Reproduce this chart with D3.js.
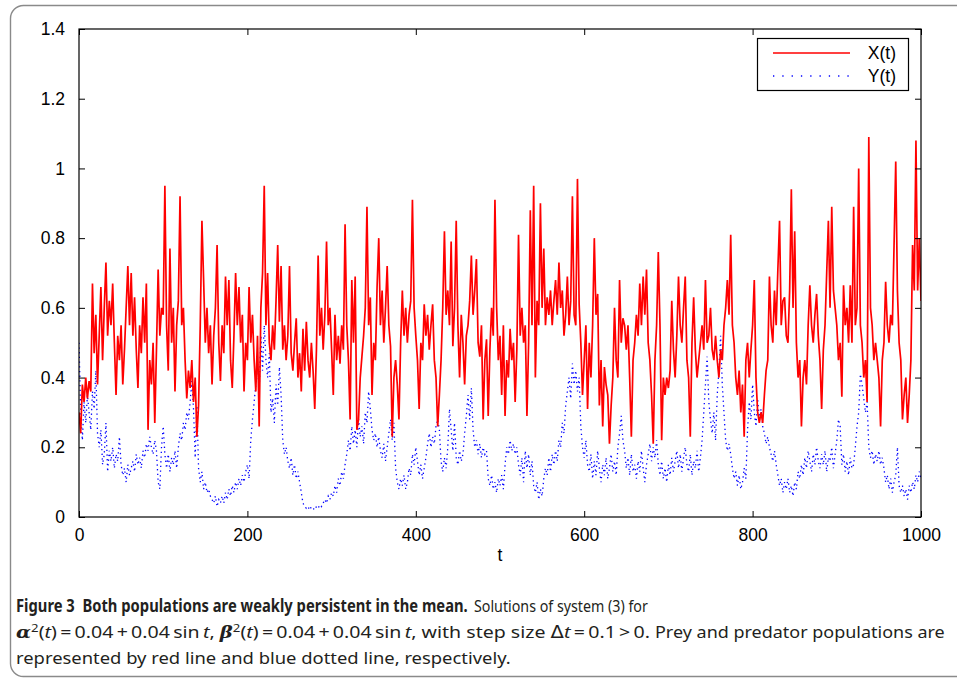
<!DOCTYPE html>
<html>
<head>
<meta charset="utf-8">
<script src="https://cdn.jsdelivr.net/npm/d3@7"></script>
<style>
  html, body { margin: 0; padding: 0; background: #fff; }
  svg { display: block; }
</style>
</head>
<body>
<div id="chart"></div>
<script>
// sampled every 2 time units, t = 0 .. 1000
const tStep = 2;

// prey X(t)
const preyX = [
  0.30,0.24,0.38,0.33,0.40,0.34,0.39,0.36,0.67,0.47,0.58,0.38,0.52,0.66,0.45,0.60,0.73,0.52,0.62,0.55,0.67,0.50,0.35,0.52,0.45,
  0.55,0.38,0.48,0.60,0.72,0.55,0.70,0.52,0.63,0.48,0.37,0.55,0.47,0.63,0.50,0.67,0.25,0.45,0.38,0.50,0.27,0.48,0.71,0.52,0.60,
  0.58,0.95,0.55,0.42,0.77,0.50,0.60,0.36,0.55,0.62,0.92,0.55,0.60,0.45,0.34,0.42,0.37,0.45,0.33,0.40,0.23,0.32,0.55,0.85,0.68,
  0.50,0.60,0.47,0.55,0.38,0.52,0.60,0.78,0.50,0.39,0.55,0.47,0.69,0.55,0.68,0.45,0.37,0.52,0.70,0.55,0.66,0.50,0.58,0.36,0.50,
  0.45,0.66,0.50,0.58,0.45,0.36,0.52,0.26,0.60,0.70,0.95,0.55,0.70,0.50,0.45,0.55,0.48,0.62,0.78,0.56,0.72,0.48,0.55,0.45,0.52,
  0.72,0.47,0.42,0.50,0.57,0.40,0.47,0.36,0.54,0.42,0.56,0.45,0.40,0.50,0.42,0.31,0.48,0.75,0.52,0.60,0.48,0.58,0.79,0.55,0.60,
  0.48,0.35,0.58,0.45,0.52,0.44,0.55,0.48,0.84,0.55,0.45,0.28,0.68,0.50,0.69,0.25,0.28,0.40,0.46,0.52,0.60,0.89,0.55,0.63,0.35,
  0.50,0.45,0.66,0.80,0.55,0.65,0.50,0.60,0.72,0.55,0.49,0.23,0.40,0.45,0.38,0.28,0.50,0.65,0.52,0.60,0.50,0.58,0.62,0.91,0.60,
  0.52,0.45,0.31,0.50,0.45,0.61,0.52,0.58,0.48,0.55,0.61,0.45,0.40,0.26,0.35,0.45,0.60,0.82,0.58,0.65,0.55,0.79,0.49,0.60,0.85,
  0.55,0.40,0.58,0.50,0.38,0.52,0.55,0.62,0.75,0.58,0.65,0.74,0.50,0.46,0.55,0.28,0.45,0.51,0.29,0.48,0.60,0.52,0.91,0.60,0.45,
  0.52,0.35,0.55,0.29,0.45,0.40,0.54,0.45,0.50,0.33,0.48,0.81,0.52,0.60,0.50,0.55,0.29,0.50,0.88,0.55,0.95,0.40,0.62,0.55,0.90,
  0.60,0.77,0.55,0.63,0.58,0.65,0.55,0.62,0.68,0.58,0.73,0.60,0.65,0.52,0.58,0.69,0.55,0.62,0.92,0.58,0.55,0.97,0.61,0.50,0.35,
  0.45,0.55,0.31,0.50,0.40,0.55,0.80,0.58,0.64,0.32,0.45,0.26,0.43,0.38,0.35,0.21,0.32,0.40,0.60,0.45,0.40,0.68,0.50,0.57,0.55,
  0.48,0.55,0.40,0.23,0.45,0.50,0.58,0.52,0.67,0.55,0.69,0.58,0.71,0.50,0.45,0.35,0.21,0.45,0.55,0.76,0.55,0.22,0.40,0.35,0.40,
  0.37,0.42,0.62,0.48,0.40,0.52,0.69,0.55,0.50,0.60,0.69,0.45,0.40,0.23,0.50,0.63,0.48,0.40,0.45,0.50,0.55,0.48,0.68,0.50,0.52,
  0.60,0.48,0.45,0.52,0.45,0.40,0.48,0.45,0.55,0.60,0.68,0.58,0.81,0.55,0.50,0.40,0.35,0.42,0.30,0.38,0.23,0.45,0.50,0.40,0.48,
  0.55,0.68,0.40,0.30,0.27,0.30,0.27,0.35,0.42,0.45,0.69,0.55,0.50,0.65,0.55,0.71,0.85,0.55,0.62,0.63,0.52,0.50,0.65,0.94,0.60,
  0.82,0.50,0.40,0.45,0.26,0.40,0.45,0.38,0.55,0.665,0.55,0.50,0.58,0.64,0.52,0.45,0.31,0.48,0.55,0.70,0.85,0.60,0.89,0.65,0.60,
  0.55,0.45,0.50,0.345,0.665,0.55,0.60,0.50,0.665,0.50,0.89,0.55,0.60,1.00,0.55,0.50,0.40,0.45,0.33,1.09,0.60,0.55,0.45,0.50,0.45,
  0.40,0.26,0.45,0.50,0.675,0.55,0.50,0.58,0.55,0.78,1.02,0.65,0.50,0.45,0.28,0.35,0.40,0.27,0.35,0.45,0.78,0.65,1.08,0.65,0.80,
  0.62
];

// predator Y(t)
const predY = [
  0.50,0.30,0.22,0.33,0.27,0.35,0.30,0.25,0.36,0.31,0.42,0.24,0.20,0.25,0.15,0.18,0.27,0.13,0.19,0.16,0.20,0.14,0.18,0.16,0.23,
  0.15,0.12,0.14,0.10,0.15,0.12,0.14,0.16,0.13,0.18,0.15,0.17,0.14,0.19,0.17,0.21,0.19,0.23,0.20,0.18,0.22,0.19,0.10,0.08,0.20,
  0.26,0.18,0.14,0.18,0.13,0.17,0.15,0.19,0.14,0.20,0.24,0.22,0.27,0.25,0.30,0.28,0.33,0.39,0.31,0.17,0.32,0.14,0.10,0.13,0.08,
  0.10,0.07,0.08,0.06,0.05,0.04,0.06,0.03,0.05,0.04,0.06,0.04,0.07,0.05,0.08,0.06,0.09,0.07,0.10,0.08,0.11,0.09,0.12,0.10,0.13,
  0.15,0.11,0.22,0.28,0.33,0.38,0.44,0.36,0.52,0.42,0.55,0.45,0.40,0.47,0.30,0.34,0.27,0.38,0.32,0.43,0.35,0.22,0.18,0.20,0.16,
  0.14,0.17,0.12,0.15,0.11,0.13,0.10,0.07,0.04,0.03,0.025,0.03,0.02,0.03,0.025,0.02,0.03,0.025,0.035,0.03,0.04,0.05,0.04,0.06,0.05,
  0.07,0.06,0.09,0.07,0.11,0.09,0.13,0.11,0.15,0.18,0.22,0.19,0.26,0.21,0.25,0.20,0.28,0.23,0.26,0.21,0.30,0.27,0.36,0.31,0.25,
  0.22,0.24,0.20,0.23,0.19,0.17,0.21,0.16,0.20,0.24,0.28,0.22,0.27,0.14,0.10,0.08,0.11,0.09,0.12,0.08,0.10,0.14,0.12,0.18,0.15,
  0.20,0.16,0.12,0.15,0.11,0.14,0.17,0.21,0.24,0.20,0.23,0.21,0.26,0.28,0.25,0.16,0.13,0.17,0.14,0.20,0.31,0.25,0.19,0.27,0.17,
  0.15,0.19,0.16,0.18,0.24,0.29,0.35,0.28,0.37,0.25,0.20,0.22,0.18,0.21,0.17,0.20,0.18,0.19,0.11,0.09,0.12,0.08,0.10,0.07,0.11,
  0.09,0.12,0.08,0.15,0.20,0.18,0.22,0.19,0.21,0.18,0.20,0.15,0.12,0.17,0.10,0.19,0.14,0.18,0.12,0.16,0.09,0.07,0.10,0.05,0.08,
  0.06,0.11,0.14,0.12,0.17,0.13,0.18,0.15,0.19,0.16,0.22,0.20,0.27,0.24,0.32,0.36,0.40,0.34,0.44,0.38,0.42,0.36,0.40,0.26,0.20,
  0.17,0.22,0.15,0.13,0.18,0.11,0.16,0.12,0.19,0.14,0.10,0.15,0.12,0.17,0.11,0.14,0.18,0.13,0.16,0.12,0.20,0.24,0.29,0.22,0.19,
  0.14,0.17,0.12,0.18,0.13,0.15,0.11,0.16,0.13,0.19,0.14,0.10,0.15,0.18,0.21,0.16,0.20,0.17,0.22,0.15,0.12,0.16,0.11,0.14,0.10,
  0.15,0.12,0.17,0.13,0.16,0.19,0.14,0.18,0.13,0.17,0.20,0.15,0.13,0.18,0.12,0.16,0.14,0.19,0.13,0.17,0.22,0.30,0.38,0.46,0.33,
  0.28,0.24,0.30,0.22,0.35,0.42,0.52,0.38,0.30,0.22,0.19,0.21,0.18,0.14,0.11,0.13,0.09,0.12,0.08,0.10,0.14,0.11,0.25,0.33,0.28,
  0.38,0.30,0.26,0.34,0.28,0.31,0.26,0.24,0.21,0.23,0.20,0.18,0.16,0.19,0.15,0.12,0.09,0.11,0.07,0.10,0.08,0.11,0.07,0.09,0.06,
  0.10,0.08,0.13,0.11,0.15,0.12,0.17,0.14,0.19,0.16,0.13,0.18,0.15,0.20,0.16,0.14,0.18,0.15,0.19,0.13,0.17,0.16,0.20,0.14,0.18,
  0.22,0.28,0.26,0.15,0.18,0.13,0.16,0.12,0.17,0.14,0.15,0.20,0.26,0.30,0.41,0.38,0.34,0.30,0.33,0.20,0.17,0.19,0.15,0.18,0.16,
  0.19,0.15,0.17,0.14,0.10,0.12,0.08,0.11,0.07,0.10,0.12,0.20,0.09,0.07,0.09,0.06,0.08,0.05,0.09,0.07,0.10,0.08,0.12,0.10,0.13,
  0.11
];

const yTicks = [0, 0.2, 0.4, 0.6, 0.8, 1, 1.2, 1.4];
const xTicks = [0, 200, 400, 600, 800, 1000];
const seriesNames = ["X(t)", "Y(t)"];

const width = 957;
const height = 681;
const margin = { top: 29, right: 36, bottom: 164, left: 79 };

const x = d3.scaleLinear()
  .domain([0, 1000])
  .range([margin.left, width - margin.right]);

const y = d3.scaleLinear()
  .domain([0, 1.4])
  .range([height - margin.bottom, margin.top]);

const svg = d3.select("#chart")
  .append("svg")
    .attr("width", width)
    .attr("height", height)
    .attr("style", "font-family: 'Liberation Sans', Arial, sans-serif;");

// outer rounded panel
svg.append("rect")
  .attr("x", 10.5)
  .attr("y", 5.5)
  .attr("width", 980)
  .attr("height", 671)
  .attr("rx", 13)
  .attr("fill", "none")
  .attr("stroke", "#8a8a8a")
  .attr("stroke-width", 1.4);

svg.append("clipPath").attr("id", "plotclip")
  .append("rect")
    .attr("x", x(0))
    .attr("y", y(1.4))
    .attr("width", x(1000) - x(0))
    .attr("height", y(0) - y(1.4));

const line = d3.line()
  .x((d, i) => x(i * tStep))
  .y(d => y(d));

const plot = svg.append("g").attr("clip-path", "url(#plotclip)");

plot.append("path")
  .datum(predY)
  .attr("fill", "none")
  .attr("stroke", "#0000ff")
  .attr("stroke-width", 1.3)
  .attr("stroke-dasharray", "1.3,3.4")
  .attr("d", line);

plot.append("path")
  .datum(preyX)
  .attr("fill", "none")
  .attr("stroke", "#ff0000")
  .attr("stroke-width", 1.7)
  .attr("stroke-linejoin", "miter")
  .attr("d", line);

// axes (ticks inside, mirrored)
const tickLen = 6;
svg.append("g")
  .attr("transform", `translate(0,${y(0)})`)
  .call(d3.axisBottom(x).tickValues(xTicks).tickSize(-tickLen).tickPadding(12).tickFormat(d3.format("d")))
  .call(g => g.select(".domain").remove());

svg.append("g")
  .attr("transform", `translate(0,${y(1.4)})`)
  .call(d3.axisTop(x).tickValues(xTicks).tickSize(-tickLen).tickFormat(""))
  .call(g => g.select(".domain").remove());

svg.append("g")
  .attr("transform", `translate(${x(0)},0)`)
  .call(d3.axisLeft(y).tickValues(yTicks).tickSize(-tickLen).tickPadding(14).tickFormat(d => d3.format("")(+d.toFixed(1))))
  .call(g => g.select(".domain").remove());

svg.append("g")
  .attr("transform", `translate(${x(1000)},0)`)
  .call(d3.axisRight(y).tickValues(yTicks).tickSize(-tickLen).tickFormat(""))
  .call(g => g.select(".domain").remove());

svg.selectAll(".tick text")
  .attr("font-size", 17.5)
  .attr("font-family", "'Liberation Sans', Arial, sans-serif")
  .attr("fill", "#000");
svg.selectAll(".tick line").attr("stroke", "#000");

svg.append("rect")
  .attr("x", x(0))
  .attr("y", y(1.4))
  .attr("width", x(1000) - x(0))
  .attr("height", y(0) - y(1.4))
  .attr("fill", "none")
  .attr("stroke", "#000")
  .attr("stroke-width", 1.2);

svg.append("text")
  .attr("x", (x(0) + x(1000)) / 2)
  .attr("y", 561)
  .attr("text-anchor", "middle")
  .attr("font-size", 17.5)
  .text("t");

// legend
const legend = svg.append("g");
legend.append("rect")
  .attr("x", 757.5).attr("y", 38.5)
  .attr("width", 151).attr("height", 52)
  .attr("fill", "#fff")
  .attr("stroke", "#000")
  .attr("stroke-width", 1.2);

const legendRows = legend.selectAll("g.row")
  .data(seriesNames)
  .join("g")
    .attr("class", "row")
    .attr("transform", (d, i) => `translate(0,${53 + i * 23})`);

legendRows.append("line")
  .attr("x1", 773).attr("x2", 850)
  .attr("stroke", (d, i) => i === 0 ? "#ff0000" : "#0000ff")
  .attr("stroke-width", 1.3)
  .attr("stroke-dasharray", (d, i) => i === 0 ? null : "1.3,8");

legendRows.append("text")
  .attr("x", 896)
  .attr("y", 6)
  .attr("text-anchor", "end")
  .attr("font-size", 17.5)
  .text(d => d);

// caption: a chunk is a row of styled runs, squeezed to the reference width
const capFont = "'Noto Sans', 'Open Sans', sans-serif";
const mathFont = "'DejaVu Serif', serif";
function captionChunk(runs, x0, y0, targetWidth) {
  const g = svg.append("g");
  let cx = 0;
  runs.forEach(r => {
    const t = g.append("text")
      .attr("x", cx)
      .attr("y", r.sup ? -6 : 0)
      .attr("font-family", r.font || capFont)
      .attr("font-size", r.sup ? 11.5 : 17)
      .attr("font-weight", r.bold ? "bold" : "normal")
      .attr("font-style", r.italic ? "italic" : "normal")
      .attr("fill", "#231f20")
      .style("white-space", "pre")
      .text(r.text);
    cx += t.node().getComputedTextLength();
  });
  const k = targetWidth / cx;
  g.attr("transform", `translate(${x0},${y0}) scale(${k},1)`);
}

const th = "\u2009";

captionChunk([{ text: "Figure 3  Both populations are weakly persistent in the mean.", bold: true }], 16, 612, 452);
captionChunk([{ text: "Solutions of system (3) for" }], 474, 612, 174);

captionChunk([
  { text: "α", bold: true, italic: true, font: mathFont },
  { text: "2", sup: true },
  { text: "(" }, { text: "t", italic: true },
  { text: `)${th}=${th}0.04${th}+${th}0.04${th}sin${th}` }, { text: "t", italic: true },
  { text: ", " },
  { text: "β", bold: true, italic: true, font: mathFont },
  { text: "2", sup: true },
  { text: "(" }, { text: "t", italic: true },
  { text: `)${th}=${th}0.04${th}+${th}0.04${th}sin${th}` }, { text: "t", italic: true },
  { text: ", with step size " },
  { text: "Δ", font: "'DejaVu Sans', sans-serif" }, { text: "t", italic: true },
  { text: `${th}=${th}0.1${th}>${th}0.` }
], 16, 638, 634);
captionChunk([{ text: "Prey and predator populations are" }], 655, 638, 290);

captionChunk([
  { text: "represented by red line and blue dotted line, respectively." }
], 16, 664, 495);
</script>
</body>
</html>
